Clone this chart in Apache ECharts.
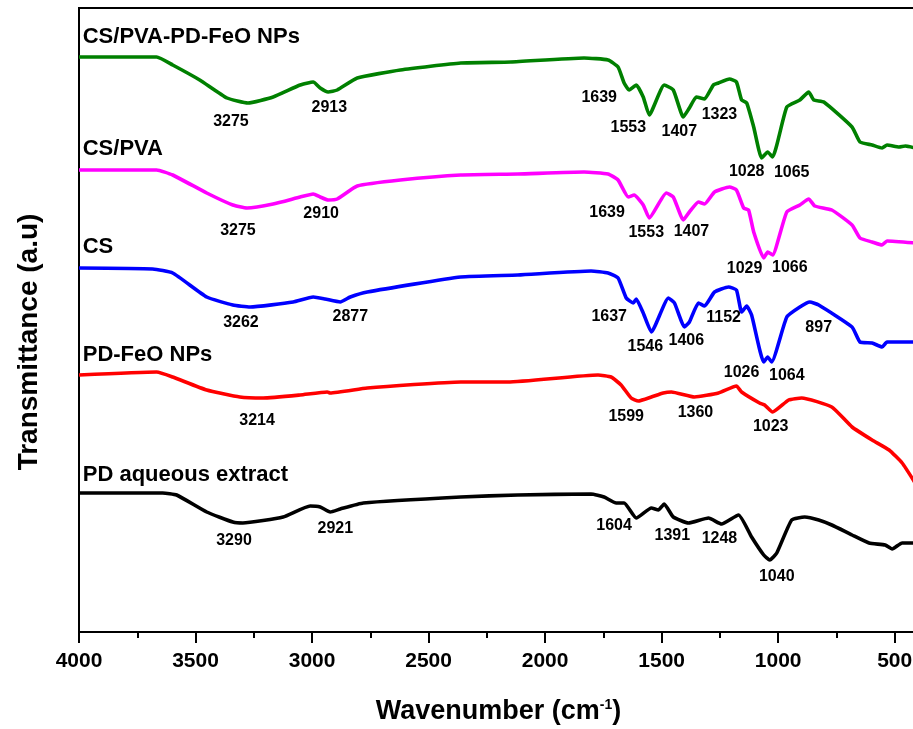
<!DOCTYPE html>
<html>
<head>
<meta charset="utf-8">
<style>
  html, body { margin: 0; padding: 0; background: #fff; }
  #main { width: 913px; height: 729px; }
</style>
</head>
<body>
<div id="main"></div>
<script src="https://cdn.jsdelivr.net/npm/echarts@6/dist/echarts.min.js"></script>
<script>
// wavenumber (cm-1), transmittance (a.u., stacked offsets)
var cspvaFeo = [[4000,575],[3667,575],[3598,567],[3482,552],[3365,534],[3275,529],[3167,535],[3051,547],[2995,550],[2965,544],[2931,540],[2892,542],[2806,554],[2621,562],[2362,569],[2147,570],[1833,574],[1730,572],[1687,565],[1661,549],[1639,542],[1609,547],[1579,535],[1553,517],[1489,547],[1450,542],[1407,515],[1381,524],[1351,535],[1316,533],[1278,547],[1256,549],[1209,553],[1179,550],[1157,532],[1135,529],[1105,505],[1071,474],[1045,480],[1024,475],[963,525],[907,532],[869,540],[847,532],[804,530],[683,505],[649,490],[597,487],[554,484],[533,487],[481,485],[455,486],[412,484]];
var cspva = [[4000,462],[3667,462],[3598,457],[3452,439],[3340,427],[3279,424],[3167,428],[3051,435],[2995,438],[2965,435],[2931,432],[2892,433],[2806,446],[2621,452],[2362,457],[2117,458],[1833,460],[1730,458],[1687,452],[1643,435],[1618,437],[1579,427],[1553,414],[1480,439],[1450,435],[1407,412],[1381,420],[1342,430],[1316,428],[1273,440],[1209,445],[1179,442],[1148,424],[1127,422],[1105,400],[1062,374],[1045,380],[1024,377],[963,420],[907,427],[869,433],[843,426],[770,422],[683,407],[649,394],[597,390],[554,387],[533,391],[412,389]];
var cs = [[4000,364],[3684,363],[3598,359],[3452,335],[3340,327],[3266,325],[3081,330],[2995,335],[2944,333],[2879,330],[2836,335],[2763,340],[2362,355],[2117,357],[1803,361],[1730,359],[1687,354],[1652,334],[1622,329],[1609,333],[1579,319],[1544,300],[1471,334],[1445,329],[1402,305],[1381,310],[1342,329],[1316,326],[1273,340],[1213,345],[1179,342],[1157,320],[1135,326],[1114,317],[1062,270],[1045,275],[1028,270],[963,315],[907,325],[864,330],[826,327],[683,305],[649,290],[597,289],[554,285],[533,290],[412,290]];
var pdFeo = [[4000,257],[3667,260],[3598,255],[3452,242],[3310,235],[3210,234],[3051,237],[2935,240],[2922,239],[2763,244],[2362,250],[2160,250],[1773,257],[1717,255],[1674,247],[1631,234],[1600,231],[1544,235],[1493,239],[1458,240],[1359,235],[1256,239],[1179,246],[1157,240],[1080,229],[1058,227],[1024,220],[955,232],[899,234],[770,225],[683,205],[597,192],[524,182],[468,169],[412,149]];
var pdExtract = [[4000,139],[3641,139],[3581,137],[3452,120],[3340,110],[3297,109],[3124,115],[3008,126],[2965,125],[2922,120],[2879,123],[2780,129],[2362,135],[2117,137],[1803,138],[1747,135],[1695,129],[1661,129],[1609,114],[1544,124],[1514,122],[1489,128],[1450,115],[1385,109],[1299,114],[1243,108],[1170,117],[1114,95],[1062,77],[1036,72],[1006,79],[942,112],[886,115],[826,112],[770,107],[683,97],[610,89],[541,87],[511,83],[468,89],[412,89]];

var seriesNames = ['CS/PVA-PD-FeO NPs', 'CS/PVA', 'CS', 'PD-FeO NPs', 'PD aqueous extract'];
var seriesColors = ['#008000', '#ff00ff', '#0000ff', '#ff0000', '#000000'];
var nameAnchors = [[3984,595],[3984,483],[3984,385],[3984,277],[3984,157]];

// peak labels: text, wavenumber, a.u.
var peakLabels = [
  ['3275',3348,510],['2913',2926,524],['1639',1768,534],['1553',1643,504],['1407',1424,500],['1323',1252,517],['1028',1135,460],['1065',942,459],
  ['3275',3318,401],['2910',2961,418],['1639',1734,419],['1553',1566,399],['1407',1372,400],['1029',1144,363],['1066',950,364],
  ['3262',3305,309],['2877',2836,315],['1637',1725,315],['1546',1570,285],['1406',1394,291],['1152',1234,314],['897',826,304],['1026',1157,259],['1064',963,256],
  ['3214',3236,211],['1599',1652,215],['1360',1355,219],['1023',1032,205],
  ['3290',3335,91],['2921',2900,103],['1604',1704,106],['1391',1454,96],['1248',1252,93],['1040',1006,55]
];

var majorTicks = [500,1000,1500,2000,2500,3000,3500,4000];
var minorTicks = [750,1250,1750,2250,2750,3250,3750];

var font = '"Liberation Sans", Arial, sans-serif';
var curves = [cspvaFeo, cspva, cs, pdFeo, pdExtract];

var series = curves.map(function (d, i) {
  return {
    name: seriesNames[i],
    type: 'line',
    data: d,
    showSymbol: false,
    smooth: 0.15,
    lineStyle: { color: seriesColors[i], width: 3.6 },
    z: 3
  };
});

series.push({
  type: 'scatter',
  symbolSize: 0,
  itemStyle: { opacity: 1 },
  data: nameAnchors.map(function (a, i) { return { name: seriesNames[i], value: a }; }),
  label: {
    show: true, position: 'right', distance: 0, formatter: '{b}',
    color: '#000', fontFamily: font, fontWeight: 'bold', fontSize: 22
  },
  z: 5
});

series.push({
  type: 'scatter',
  symbolSize: 0,
  itemStyle: { opacity: 1 },
  data: peakLabels.map(function (p) { return { name: p[0], value: [p[1], p[2]] }; }),
  label: {
    show: true, position: 'inside', formatter: '{b}',
    color: '#000', fontFamily: font, fontWeight: 'bold', fontSize: 16
  },
  z: 5
});

var chart = echarts.init(document.getElementById('main'));
chart.setOption({
  animation: false,
  backgroundColor: '#fff',
  tooltip: { show: false },
  grid: {
    left: 79, right: -5, top: 8, bottom: 97,
    outerBoundsMode: 'none', containLabel: false,
    show: true, borderColor: '#000', borderWidth: 2, backgroundColor: 'transparent'
  },
  xAxis: [{
    type: 'value', min: 400, max: 4000, inverse: true,
    name: 'Wavenumber (cm{s|-1})',
    nameLocation: 'middle', nameGap: 66,
    nameTextStyle: {
      color: '#000', fontFamily: font, fontWeight: 'bold', fontSize: 27,
      rich: { s: { fontSize: 14, fontWeight: 'bold', fontFamily: font, padding: [0, 0, 14, 0] } }
    },
    axisLine: { show: true, onZero: false, lineStyle: { color: '#000', width: 2 } },
    axisTick: { show: true, customValues: majorTicks, length: 11, lineStyle: { color: '#000', width: 2 } },
    axisLabel: {
      show: true, customValues: majorTicks, margin: 19, color: '#000',
      fontFamily: font, fontWeight: 'bold', fontSize: 21,
      formatter: function (v) { return String(v); }
    },
    splitLine: { show: false }
  }, {
    type: 'value', min: 400, max: 4000, inverse: true, position: 'bottom',
    axisLine: { show: false },
    axisTick: { show: true, customValues: minorTicks, length: 6, lineStyle: { color: '#000', width: 2 } },
    axisLabel: { show: false },
    splitLine: { show: false }
  }],
  yAxis: {
    type: 'value', min: 0, max: 624,
    name: 'Transmittance (a.u)',
    nameLocation: 'middle', nameGap: 36,
    nameTextStyle: { color: '#000', fontFamily: font, fontWeight: 'bold', fontSize: 28, padding: [0, 44, 0, 0] },
    axisLine: { show: true, lineStyle: { color: '#000', width: 2 } },
    axisTick: { show: false },
    axisLabel: { show: false },
    splitLine: { show: false }
  },
  series: series
});
</script>
</body>
</html>
